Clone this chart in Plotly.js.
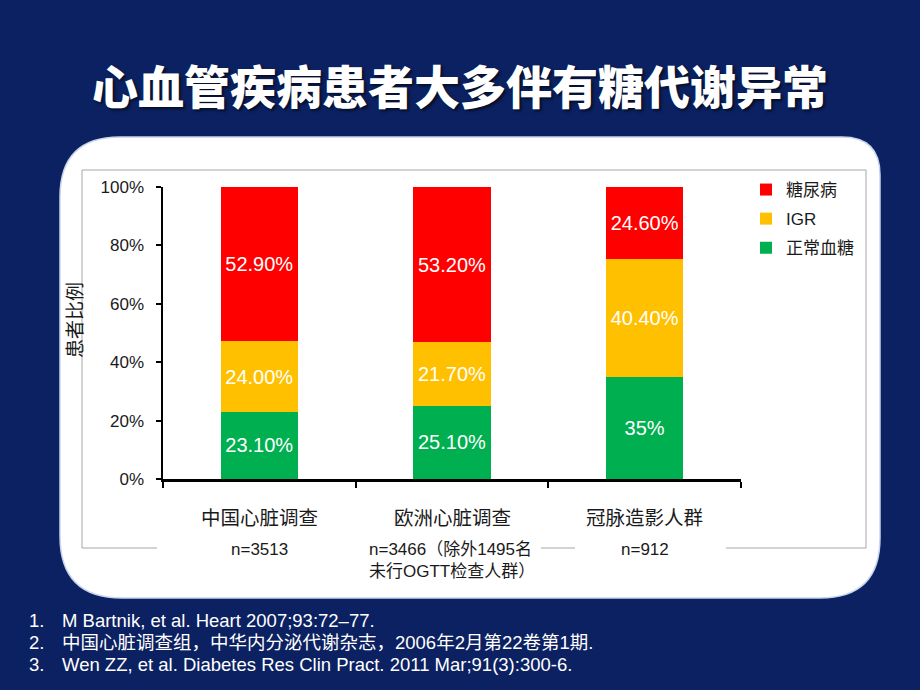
<!DOCTYPE html>
<html>
<head>
<meta charset="utf-8">
<script src="https://cdn.plot.ly/plotly-3.0.1.min.js"></script>
<style>
  html, body { margin: 0; padding: 0; background: #0b2161; }
  #chart { width: 920px; height: 690px; }
</style>
</head>
<body>
<div id="chart"></div>
<script>
// ---- data ----
const categories = ["中国心脏调查", "欧洲心脏调查", "冠脉造影人群"];
const sampleNotes = ["n=3513", "n=3466（除外1495名<br>未行OGTT检查人群）", "n=912"];
const seriesNames = ["正常血糖", "IGR", "糖尿病"];
const normalValues = [23.1, 25.1, 35.0];
const igrValues = [24.0, 21.7, 40.4];
const diabetesValues = [52.9, 53.2, 24.6];
const normalLabels = ["23.10%", "25.10%", "35%"];
const igrLabels = ["24.00%", "21.70%", "40.40%"];
const diabetesLabels = ["52.90%", "53.20%", "24.60%"];
const yTickVals = [0, 20, 40, 60, 80, 100];
const yTickText = ["0%", "20%", "40%", "60%", "80%", "100%"];
const titleText = "心血管疾病患者大多伴有糖代谢异常";
const yTitleText = "患者比例";
const refNums = ["1.", "2.", "3."];
const refTexts = [
  "M Bartnik, et al. Heart 2007;93:72–77.",
  "中国心脏调查组，中华内分泌代谢杂志，2006年2月第22卷第1期.",
  "Wen ZZ, et al. Diabetes Res Clin Pract. 2011 Mar;91(3):300-6."
];

// ---- layout helpers (pixel -> paper) ----
const L = 163, R = 741, T = 187, B = 479;
const W = R - L, H = B - T;
const fx = x => (x - L) / W;
const fy = y => (B - y) / H;

const FONT = "Arial, 'Liberation Sans', 'Noto Sans CJK SC', sans-serif";
const colors = ["#00b050", "#ffc000", "#ff0000"];
const ranks = [3, 2, 1];

const valueSets = [normalValues, igrValues, diabetesValues];
const labelSets = [normalLabels, igrLabels, diabetesLabels];
const traces = seriesNames.map((name, i) => ({
  type: "bar",
  name: name,
  x: categories,
  y: valueSets[i],
  text: labelSets[i],
  textposition: "inside",
  insidetextanchor: "middle",
  textfont: { color: "#ffffff", size: 20, family: FONT },
  marker: { color: colors[i] },
  legendgroup: "g" + i,
  legendrank: ranks[i],
  hoverinfo: "skip"
}));

// Rounded white panel path
function P(x, y) { return fx(x).toFixed(5) + "," + fy(y).toFixed(5); }
const panelPath = "M" + P(120,137) + " L" + P(842,137) + " Q" + P(880,137) + " " + P(880,175) +
  " L" + P(880,538) + " Q" + P(880,598) + " " + P(820,598) + " L" + P(122,598) +
  " Q" + P(60,598) + " " + P(60,536) + " L" + P(60,197) + " Q" + P(60,137) + " " + P(120,137) + " Z";

const shapes = [
  { type: "path", xref: "paper", yref: "paper", path: panelPath, fillcolor: "#ffffff",
    line: { color: "#c9d5ec", width: 1.5 }, layer: "below" },
  // gray frame
  { type: "line", xref: "paper", yref: "paper", x0: fx(82), x1: fx(866), y0: fy(170), y1: fy(170), line: { color: "#a6a6a6", width: 1 }, layer: "below" },
  { type: "line", xref: "paper", yref: "paper", x0: fx(82), x1: fx(82), y0: fy(170), y1: fy(548), line: { color: "#a6a6a6", width: 1 }, layer: "below" },
  { type: "line", xref: "paper", yref: "paper", x0: fx(866), x1: fx(866), y0: fy(170), y1: fy(548), line: { color: "#a6a6a6", width: 1 }, layer: "below" },
  { type: "line", xref: "paper", yref: "paper", x0: fx(82), x1: fx(157), y0: fy(548), y1: fy(548), line: { color: "#a6a6a6", width: 1 }, layer: "below" },
  { type: "line", xref: "paper", yref: "paper", x0: fx(541), x1: fx(575), y0: fy(548), y1: fy(548), line: { color: "#a6a6a6", width: 1 }, layer: "below" },
  { type: "line", xref: "paper", yref: "paper", x0: fx(726), x1: fx(866), y0: fy(548), y1: fy(548), line: { color: "#a6a6a6", width: 1 }, layer: "below" }
];

const annotations = [];
categories.forEach((c, i) => {
  annotations.push({ xref: "x", yref: "paper", x: c, y: fy(518), text: c, showarrow: false,
    xanchor: "center", yanchor: "middle", font: { size: 19.5, color: "#1a1a1a", family: FONT } });
  annotations.push({ xref: "x", yref: "paper", x: c, y: fy(538), text: sampleNotes[i], showarrow: false,
    xanchor: "center", yanchor: "top", align: "left", font: { size: 17, color: "#1a1a1a", family: FONT } });
});
annotations.push({ xref: "paper", yref: "paper", x: fx(75), y: fy(320), text: yTitleText, textangle: -90,
  showarrow: false, xanchor: "center", yanchor: "middle", font: { size: 19, color: "#1a1a1a", family: FONT } });
refTexts.forEach((t, i) => {
  const yy = fy(620 + i * 22);
  annotations.push({ xref: "paper", yref: "paper", x: fx(27), y: yy, text: refNums[i], showarrow: false,
    xanchor: "left", yanchor: "middle", font: { size: 18.5, color: "#ffffff", family: FONT } });
  annotations.push({ xref: "paper", yref: "paper", x: fx(60), y: yy, text: t, showarrow: false,
    xanchor: "left", yanchor: "middle", font: { size: 18.5, color: "#ffffff", family: FONT } });
});

const layout = {
  width: 920, height: 690,
  margin: { l: L, r: 920 - R, t: T, b: 690 - B, pad: 0 },
  paper_bgcolor: "#0b2161",
  plot_bgcolor: "rgba(0,0,0,0)",
  barmode: "stack",
  bargap: 0.6,
  showlegend: true,
  title: {
    text: titleText,
    x: 0.5, xanchor: "center",
    y: 1 - 88 / 690, yanchor: "middle",
    font: { family: "'Noto Sans CJK SC', sans-serif", size: 46, color: "#ffffff", weight: 900,
            shadow: "2px 2px 3px rgba(0,0,0,0.6)" }
  },
  legend: {
    x: fx(746), y: fy(172), xanchor: "left", yanchor: "top",
    traceorder: "grouped", tracegroupgap: 4,
    bgcolor: "rgba(0,0,0,0)",
    font: { size: 17, color: "#1a1a1a", family: FONT },
    itemwidth: 30
  },
  xaxis: {
    type: "category",
    range: [-0.5, 2.5],
    showline: true, linecolor: "#000000", linewidth: 2.5,
    ticks: "outside", ticklen: 6, tickwidth: 2, tickcolor: "#000000",
    tickson: "boundaries",
    showticklabels: false,
    showgrid: false, zeroline: false, fixedrange: true
  },
  yaxis: {
    range: [0, 100],
    tickvals: yTickVals, ticktext: yTickText,
    showline: true, linecolor: "#000000", linewidth: 2.5,
    ticks: "outside", ticklen: 5, tickwidth: 2, tickcolor: "#000000",
    ticklabelstandoff: 8,
    tickfont: { size: 17, color: "#1a1a1a", family: FONT },
    showgrid: false, zeroline: false, fixedrange: true
  },
  shapes: shapes,
  annotations: annotations
};

Plotly.newPlot("chart", traces, layout, { displayModeBar: false, staticPlot: true });
</script>
</body>
</html>
